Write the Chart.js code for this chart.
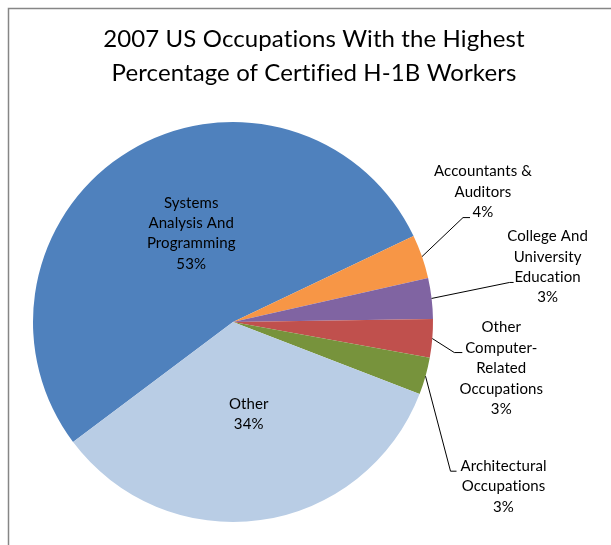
<!DOCTYPE html>
<html>
<head>
<meta charset="utf-8">
<script src="https://cdn.jsdelivr.net/npm/chart.js@4.4.1/dist/chart.umd.min.js"></script>
<style>
  html, body { margin: 0; padding: 0; background: #fff; }
  canvas { display: block; }
</style>
</head>
<body>
<canvas id="pie" width="611" height="545"></canvas>
<script>
const titleLines = ["2007 US Occupations With the Highest", "Percentage of Certified H-1B Workers"];

const categories = [
  "Systems Analysis And Programming",
  "Accountants & Auditors",
  "College And University Education",
  "Other Computer-Related Occupations",
  "Architectural Occupations",
  "Other",
];
const shares = [53.2, 3.55, 3.3, 3.1, 3.0, 33.9];
const percentLabels = ["53%", "4%", "3%", "3%", "3%", "34%"];
const labelLines = [
  ["Systems", "Analysis And", "Programming"],
  ["Accountants &", "Auditors"],
  ["College And", "University", "Education"],
  ["Other", "Computer-", "Related", "Occupations"],
  ["Architectural", "Occupations"],
  ["Other"],
];
const colors = ["#4f81bd", "#f79646", "#8064a2", "#c0504d", "#77933c", "#b9cde5"];

// label placement, relative to the slice (inside) or its outer edge (outside)
const placement = [
  { inside: true, dx: 10, dy: -3 },
  { elbow: [41, -39], run: 7, text: [61, -85] },
  { elbow: [78, -16], run: 4, text: [116, -62] },
  { elbow: [22, 14], run: 8, text: [69, -11] },
  { elbow: [25, 95], run: 6, text: [78, 90] },
  { inside: true, dx: 2, dy: -7 },
];

const LABEL_FONT = "15px Lato, 'Open Sans', sans-serif";
const LINE_H = 20.4;

const frameAndLabels = {
  id: "frameAndLabels",
  beforeDraw(chart) {
    const ctx = chart.ctx;
    ctx.save();
    ctx.strokeStyle = "#868686";
    ctx.lineWidth = 1.5;
    ctx.beginPath();
    ctx.moveTo(8.5, chart.height);
    ctx.lineTo(8.5, 8.5);
    ctx.lineTo(chart.width, 8.5);
    ctx.stroke();

    ctx.fillStyle = "#000";
    ctx.font = "24px Lato, 'Open Sans', sans-serif";
    ctx.letterSpacing = "0.1px"; // keeps "ti" from turning into a ligature
    ctx.textAlign = "center";
    ctx.textBaseline = "alphabetic";
    ctx.fillText(titleLines[0], 314, 47);
    ctx.fillText(titleLines[1], 314, 81);
    ctx.restore();
  },
  afterDraw(chart) {
    const ctx = chart.ctx;
    const arcs = chart.getDatasetMeta(0).data;
    ctx.save();
    ctx.font = LABEL_FONT;
    ctx.letterSpacing = "0.1px";
    ctx.fillStyle = "#000";
    ctx.strokeStyle = "#000";
    ctx.lineWidth = 1;
    ctx.textAlign = "center";
    ctx.textBaseline = "middle";

    arcs.forEach((arc, i) => {
      const p = placement[i];
      const lines = labelLines[i].concat([percentLabels[i]]);
      let cx, cy;
      if (p.inside) {
        const pos = arc.tooltipPosition();
        cx = pos.x + p.dx;
        cy = pos.y + p.dy - ((lines.length - 1) * LINE_H) / 2;
      } else {
        const mid = (arc.startAngle + arc.endAngle) / 2;
        const sx = arc.x + Math.cos(mid) * arc.outerRadius;
        const sy = arc.y + Math.sin(mid) * arc.outerRadius;
        const ex = sx + p.elbow[0];
        const ey = sy + p.elbow[1];
        ctx.beginPath();
        ctx.moveTo(sx, sy);
        ctx.lineTo(ex, ey);
        ctx.lineTo(ex + p.run, ey);
        ctx.stroke();
        cx = sx + p.text[0];
        cy = sy + p.text[1];
      }
      lines.forEach((line, k) => ctx.fillText(line, cx, cy + k * LINE_H));
    });
    ctx.restore();
  },
};

new Chart(document.getElementById("pie"), {
  type: "pie",
  data: {
    labels: categories,
    datasets: [
      {
        data: shares,
        backgroundColor: colors,
        borderWidth: 0,
      },
    ],
  },
  options: {
    responsive: false,
    animation: false,
    rotation: 233.1,
    layout: { padding: { left: 33, right: 178, top: 122, bottom: 23 } },
    plugins: {
      legend: { display: false },
      tooltip: { enabled: false },
      title: { display: false },
    },
  },
  plugins: [frameAndLabels],
});
</script>
</body>
</html>
